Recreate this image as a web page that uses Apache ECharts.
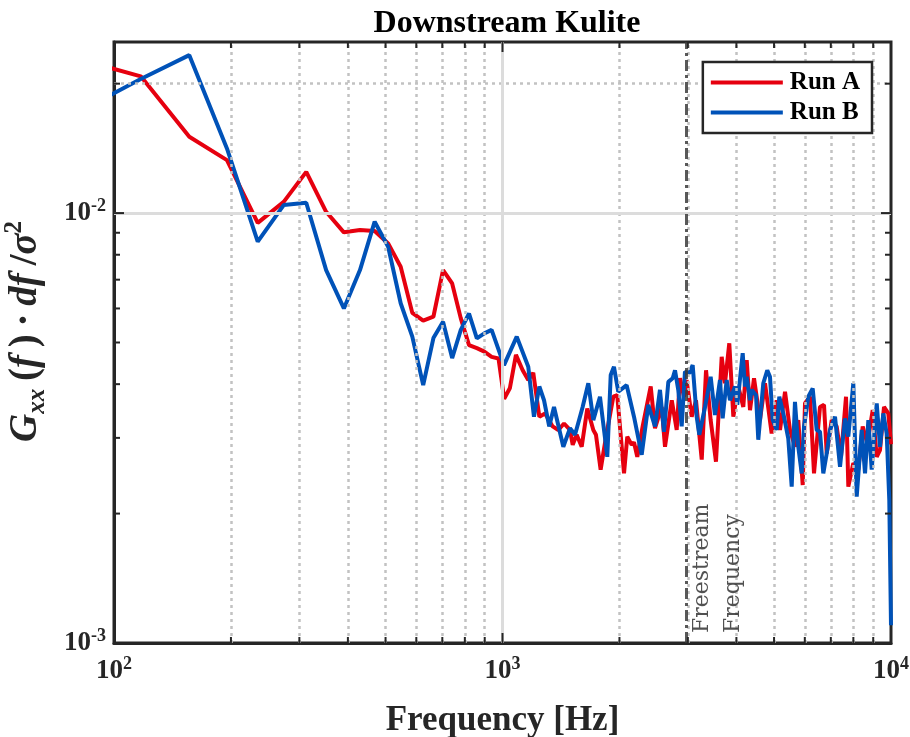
<!DOCTYPE html>
<html><head><meta charset="utf-8">
<script src="https://cdn.jsdelivr.net/npm/echarts@6/dist/echarts.min.js"></script>
<style>html,body{margin:0;padding:0;background:#fff}#c{width:910px;height:737px}</style>
</head><body><div id="c"></div>
<script>
// ---------------- data ----------------
const freqA = [78.125,117.2,156.25,195.3,234.4,273.4,312.5,351.6,390.6,429.7,468.75,507.8,546.9,585.9,625,664,703,742,781,820,859,898,937.5,976.6,
1010,1045,1083,1127,1165,1200,1244,1287,1346,1392,1440,1492,1516,1552,1599,1653,1713,1740,1789,1847,1929,1974,
2055,2095,2151,2180,2223,2296,2407,2469,2569,2620,2727,2808,2863,2932,2977,3069,3148,3257,3341,3434,3544,3666,3738,3835,3928,
4045,4167,4252,4336,4440,4600,4739,4930,5079,5180,5336,5495,5660,5772,5926,6007,6187,6336,6565,6723,6832,7037,7248,7436,7660,7765,
7998,8238,8456,8690,8973,9189,9369,9594,9841,10000];
const gxxA = [0.0230,0.0208,0.01505,0.01328,0.00949,0.01062,0.01247,0.01007,0.00902,0.00913,0.00908,0.00850,0.00750,0.00586,0.00562,0.00574,0.00737,0.00686,0.00569,0.00493,0.00485,0.00476,0.00463,0.00459,
0.00370,0.00392,0.00468,0.00431,0.00409,0.00425,0.00336,0.00342,0.00319,0.00313,0.00324,0.00313,0.00289,0.00305,0.00286,0.00351,0.00313,0.00305,0.00253,0.00302,0.00374,0.00377,
0.00248,0.00302,0.00289,0.00293,0.00271,0.00320,0.00395,0.00316,0.00354,0.00286,0.00367,0.00313,0.00413,0.00374,0.00409,0.00336,0.00367,0.00267,0.00431,0.00330,0.00264,0.00463,0.00402,0.00498,0.00336,
0.00395,0.00354,0.00455,0.00348,0.00413,0.00330,0.00402,0.00307,0.00367,0.00313,0.00384,0.00313,0.00286,0.00330,0.00233,0.00361,0.00374,0.00248,0.00354,0.00358,0.00276,0.00330,0.00319,0.00271,0.00374,0.00231,
0.00262,0.00253,0.00319,0.00291,0.00348,0.00271,0.00281,0.00354,0.00342,0.00290];

const freqB = [78.125,117.2,156.25,195.3,234.4,273.4,312.5,351.6,390.6,429.7,468.75,507.8,546.9,585.9,625,664,703,742,781,820,859,898,937.5,
1009,1088,1165,1205,1244,1279,1319,1357,1434,1492,1537,1608,1663,1713,1782,1861,1899,1936,1986,
2087,2180,2282,2373,2469,2543,2604,2672,2742,2780,2834,2892,2949,3025,3087,3161,3210,3321,3434,3523,3629,3687,3776,3851,3967,
4021,4152,4209,4252,4336,4380,4493,4554,4691,4803,4881,4960,5079,5158,5283,5440,5551,5660,5772,5891,5972,6125,6287,6438,6565,6695,6832,6966,
7176,7392,7614,7765,7998,8161,8406,8573,8743,8920,9189,9369,9554,9748,9899,10000];
const gxxB = [0.0169,0.0205,0.0233,0.01414,0.00858,0.01044,0.01057,0.00737,0.00600,0.00737,0.00955,0.00835,0.00617,0.00516,0.00398,0.00512,0.00559,0.00460,0.00535,0.00584,0.00511,0.00525,0.00535,
0.00443,0.00516,0.00439,0.00336,0.00395,0.00367,0.00319,0.00354,0.00286,0.00316,0.00305,0.00354,0.00402,0.00330,0.00374,0.00271,0.00420,0.00439,0.00384,
0.00398,0.00336,0.00274,0.00358,0.00319,0.00388,0.00310,0.00405,0.00413,0.00431,0.00388,0.00319,0.00428,0.00424,0.00443,0.00336,0.00305,0.00354,0.00416,0.00339,0.00409,0.00333,0.00409,0.00367,0.00395,
0.00358,0.00472,0.00395,0.00416,0.00367,0.00388,0.00377,0.00297,0.00402,0.00431,0.00416,0.00330,0.00313,0.00374,0.00342,0.00299,0.00231,0.00364,0.00286,0.00248,0.00319,0.00374,0.00391,0.00313,0.00310,0.00248,0.00276,0.00313,
0.00336,0.00257,0.00333,0.00302,0.00402,0.00219,0.00313,0.00248,0.00330,0.00253,0.00361,0.00286,0.00342,0.00307,0.00215,0.0011];

const seriesNames = ['Run A', 'Run B'];
const xRange = [100, 10000];
const yRange = [0.001, 0.025];
const xMinorTicks = [200,300,400,500,600,700,800,900,2000,3000,4000,5000,6000,7000,8000,9000];
const yMinorTicks = [0.002,0.003,0.004,0.005,0.006,0.007,0.008,0.009,0.02];
const xMajorTicks = [1000];
const yMajorTicks = [0.01];
const freestreamFreq = 2970;
const titleText = 'Downstream Kulite';
const xName = 'Frequency [Hz]';

// ---------------- chart ----------------
const SERIF = '"Liberation Serif", "Times New Roman", serif';
const chart = echarts.init(document.getElementById('c'), null, {renderer: 'canvas'});

function powLabel(v) {
  const e = Math.log10(v);
  const r = Math.round(e);
  if (Math.abs(e - r) > 1e-6) return '';
  return '{b|10}{s|' + r + '}';
}
const tickRich = {
  b: {fontFamily: SERIF, fontWeight: 'bold', fontSize: 27, lineHeight: 32, color: '#262626'},
  s: {fontFamily: SERIF, fontWeight: 'bold', fontSize: 18, lineHeight: 18, verticalAlign: 'top', color: '#262626'}
};

function tickRender(isX) {
  return function (params, api) {
    const v = api.value(isX ? 0 : 1);
    const major = api.value(2) === 1;
    const L = major ? 10 : 6;
    const st = {stroke: '#262626', lineWidth: 2};
    if (isX) {
      const b = api.coord([v, yRange[0]]);
      const t = api.coord([v, yRange[1]]);
      return {type: 'group', children: [
        {type: 'line', shape: {x1: b[0], y1: b[1], x2: b[0], y2: b[1] - L}, style: st},
        {type: 'line', shape: {x1: t[0], y1: t[1], x2: t[0], y2: t[1] + L}, style: st}
      ]};
    } else {
      const l = api.coord([xRange[0], v]);
      const r = api.coord([xRange[1], v]);
      return {type: 'group', children: [
        {type: 'line', shape: {x1: l[0], y1: l[1], x2: l[0] + L, y2: l[1]}, style: st},
        {type: 'line', shape: {x1: r[0], y1: r[1], x2: r[0] - L, y2: r[1]}, style: st}
      ]};
    }
  };
}

const option = {
  animation: false,
  backgroundColor: '#fff',
  title: {
    text: titleText, left: 502, textAlign: 'center', top: 3,
    textStyle: {fontFamily: SERIF, fontWeight: 'bold', fontSize: 32, color: '#000'}
  },
  grid: {left: 114, right: 19, top: 42, bottom: 94, show: true, borderColor: '#262626', borderWidth: 3,
         backgroundColor: '#fff', containLabel: false, outerBoundsMode: 'none'},
  legend: {
    z: 20,
    data: seriesNames.map(n => ({name: n, icon: 'rect'})), orient: 'vertical', right: 38, top: 62,
    backgroundColor: '#fff', borderColor: '#262626', borderWidth: 2.5, borderRadius: 0,
    padding: [8, 12, 8, 8], itemWidth: 72, itemHeight: 4, itemGap: 5,
    textStyle: {fontFamily: SERIF, fontWeight: 'bold', fontSize: 25, color: '#000', padding: [0, 0, 0, 2]}
  },
  xAxis: {
    type: 'log', logBase: 10, min: xRange[0], max: xRange[1],
    name: xName, nameLocation: 'middle', nameGap: 60,
    nameTextStyle: {fontFamily: SERIF, fontWeight: 'bold', fontSize: 35, color: '#262626'},
    axisLine: {show: true, lineStyle: {color: '#262626', width: 3}},
    axisTick: {show: false},
    axisLabel: {formatter: powLabel, rich: tickRich, margin: 12, showMinLabel: true, showMaxLabel: true},
    splitLine: {show: false},
    minorTick: {show: false}, minorSplitLine: {show: false}
  },
  yAxis: {
    type: 'log', logBase: 10, min: yRange[0], max: yRange[1],
    name: '{i|G}{sub|xx}{n|\u2009(}{i|f}{n|\u2009)\u2009·\u2009}{i|df}{n|\u2009/}{i|σ}{sup|2}',
    nameLocation: 'middle', nameGap: 64, nameRotate: 90,
    nameTextStyle: {
      padding: [0, 0, 0, 22],
      rich: {
        i: {fontFamily: SERIF, fontStyle: 'italic', fontWeight: 'bold', fontSize: 39, lineHeight: 48, color: '#262626'},
        n: {fontFamily: SERIF, fontWeight: 'bold', fontSize: 39, lineHeight: 48, color: '#262626'},
        sub: {fontFamily: SERIF, fontStyle: 'italic', fontWeight: 'bold', fontSize: 25, lineHeight: 25, verticalAlign: 'bottom', color: '#262626'},
        sup: {fontFamily: SERIF, fontWeight: 'bold', fontSize: 25, lineHeight: 25, verticalAlign: 'top', color: '#262626'}
      }
    },
    axisLine: {show: true, lineStyle: {color: '#262626', width: 3}},
    axisTick: {show: false},
    axisLabel: {formatter: powLabel, rich: tickRich, margin: 8, showMaxLabel: false},
    splitLine: {show: false},
    minorTick: {show: false}, minorSplitLine: {show: false}
  },
  series: [
    {
      name: '_grid', type: 'line', data: [], z: 1, silent: true, legendHoverLink: false,
      markLine: {
        silent: true, symbol: ['none', 'none'], animation: false,
        label: {show: false},
        lineStyle: {color: '#c2c2c2', width: 2.5, type: [3, 4]},
        data: xMinorTicks.map(v => ({xAxis: v})).concat(yMinorTicks.map(v => ({yAxis: v})))
      }
    },
    {
      name: '_gridMajor', type: 'line', data: [], z: 1, silent: true, legendHoverLink: false,
      markLine: {
        silent: true, symbol: ['none', 'none'], animation: false,
        label: {show: false},
        lineStyle: {color: '#dcdcdc', width: 3, type: 'solid'},
        data: xMajorTicks.map(v => ({xAxis: v})).concat(yMajorTicks.map(v => ({yAxis: v})))
      }
    },
    {
      name: seriesNames[0], type: 'line', z: 3, symbol: 'none', showSymbol: false, clip: true,
      color: '#e6000f',
      lineStyle: {color: '#e6000f', width: 4},
      data: freqA.map((f, i) => [f, gxxA[i]])
    },
    {
      name: seriesNames[1], type: 'line', z: 4, symbol: 'none', showSymbol: false, clip: true,
      color: '#0052b8',
      lineStyle: {color: '#0052b8', width: 4},
      data: freqB.map((f, i) => [f, gxxB[i]])
    },
    {
      name: '_freestream', type: 'line', data: [], z: 6, silent: true,
      markLine: {
        silent: true, symbol: ['none', 'none'], animation: false,
        lineStyle: {color: '#3c3c3c', width: 3, type: [11, 4, 3, 4], opacity: 0.85},
        label: {
          show: true, position: 'insideStartBottom', formatter: 'Freestream\nFrequency',
          fontFamily: '"DejaVu Serif", serif', fontSize: 22, lineHeight: 31, color: '#333', distance: [10, 1]
        },
        data: [{xAxis: freestreamFreq}]
      }
    },
    {
      name: '_xticks', type: 'custom', z: 7, silent: true,
      data: xMinorTicks.map(v => [v, yRange[0], 0]).concat(xMajorTicks.map(v => [v, yRange[0], 1])),
      renderItem: tickRender(true)
    },
    {
      name: '_yticks', type: 'custom', z: 7, silent: true,
      data: yMinorTicks.map(v => [xRange[0], v, 0]).concat(yMajorTicks.map(v => [xRange[0], v, 1])),
      renderItem: tickRender(false)
    }
  ]
};
chart.setOption(option);
</script></body></html>
